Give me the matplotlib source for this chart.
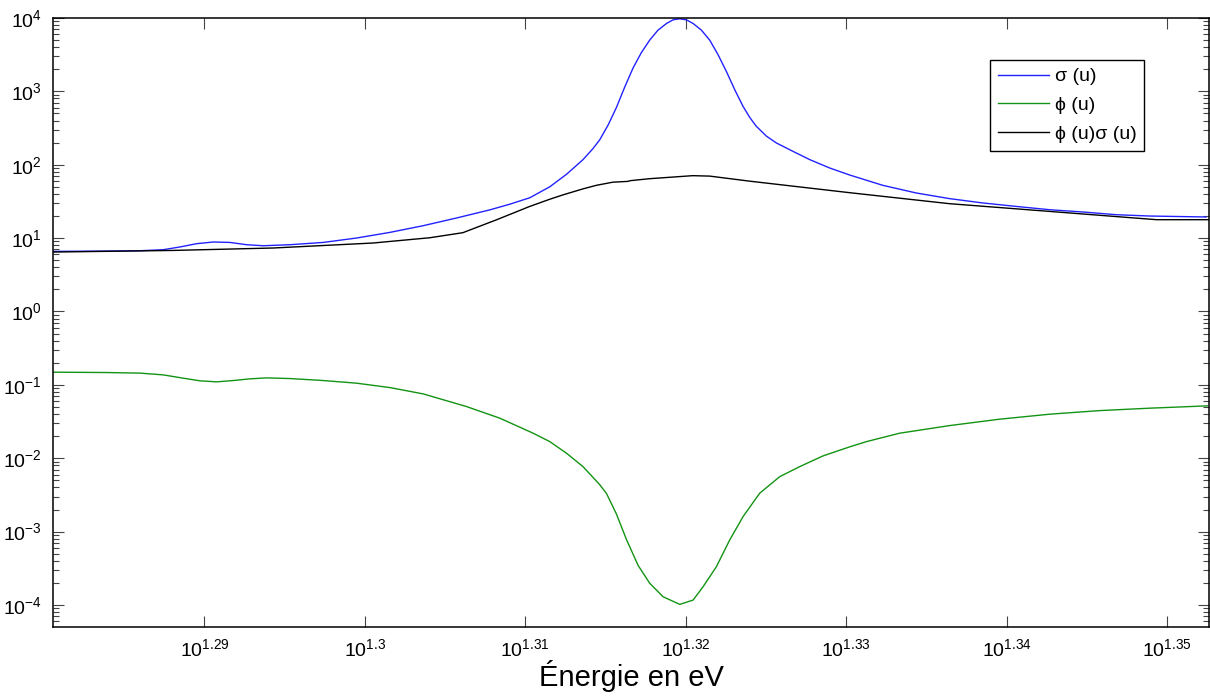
#!/usr/bin/env python3
"""Cross section, flux and reaction rate around the 20.9 eV resonance."""

import matplotlib

matplotlib.use("Agg")
import matplotlib.pyplot as plt
from matplotlib.ticker import FixedLocator, FixedFormatter, LogLocator, NullLocator

plt.rcParams["font.family"] = ["Liberation Sans", "DejaVu Sans"]
plt.rcParams["mathtext.fontset"] = "custom"
plt.rcParams["mathtext.rm"] = "Liberation Sans"
plt.rcParams["mathtext.it"] = "Liberation Sans:italic"
plt.rcParams["mathtext.bf"] = "Liberation Sans:bold"

# Values, both axes as decimal exponents (log10)
sigma_logE = [1.28058, 1.28391, 1.28598, 1.28743, 1.28847, 1.28951, 1.29055,
              1.29159, 1.29263, 1.29366, 1.29533, 1.29740, 1.29948, 1.30156,
              1.30363, 1.30571, 1.30779, 1.30900, 1.31028, 1.31153, 1.31257,
              1.31360, 1.31422, 1.31464, 1.31516, 1.31568, 1.31620, 1.31672,
              1.31724, 1.31776, 1.31827, 1.31880, 1.31921, 1.31963, 1.32004,
              1.32046, 1.32098, 1.32150, 1.32201, 1.32253, 1.32305, 1.32357,
              1.32399, 1.32440, 1.32503, 1.32565, 1.32668, 1.32773, 1.32897,
              1.33022, 1.33229, 1.33437, 1.33645, 1.33852, 1.34060, 1.34268,
              1.34475, 1.34684, 1.34891, 1.35244]
sigma_log = [0.819, 0.824, 0.828, 0.842, 0.879, 0.924, 0.947,
             0.941, 0.910, 0.896, 0.910, 0.941, 1.001, 1.078,
             1.169, 1.274, 1.385, 1.460, 1.550, 1.700, 1.870,
             2.070, 2.220, 2.340, 2.540, 2.780, 3.060, 3.320,
             3.530, 3.700, 3.834, 3.925, 3.975, 3.989, 3.975,
             3.925, 3.834, 3.697, 3.502, 3.274, 3.025, 2.797,
             2.645, 2.524, 2.390, 2.297, 2.183, 2.070, 1.956,
             1.860, 1.719, 1.615, 1.538, 1.479, 1.432, 1.387,
             1.356, 1.319, 1.301, 1.288]

phi_logE = [1.28058, 1.28391, 1.28598, 1.28743, 1.28868, 1.28972, 1.29076,
            1.29180, 1.29284, 1.29387, 1.29533, 1.29740, 1.29948, 1.30156,
            1.30363, 1.30634, 1.30841, 1.31049, 1.31153, 1.31257, 1.31360,
            1.31464, 1.31506, 1.31568, 1.31631, 1.31703, 1.31776, 1.31859,
            1.31963, 1.32046, 1.32108, 1.32191, 1.32274, 1.32357, 1.32461,
            1.32586, 1.32710, 1.32855, 1.33022, 1.33126, 1.33333, 1.33645,
            1.33956, 1.34268, 1.34579, 1.34891, 1.35254]
phi_log = [-0.827, -0.832, -0.840, -0.864, -0.909, -0.945, -0.959,
           -0.941, -0.918, -0.905, -0.914, -0.941, -0.977, -1.037,
           -1.123, -1.296, -1.454, -1.659, -1.774, -1.932, -2.115,
           -2.360, -2.480, -2.760, -3.110, -3.460, -3.705, -3.888,
           -3.992, -3.933, -3.752, -3.479, -3.115, -2.797, -2.477,
           -2.251, -2.115, -1.969, -1.845, -1.774, -1.659, -1.555,
           -1.468, -1.400, -1.351, -1.318, -1.286]

rate_logE = [1.28058, 1.28804, 1.29427, 1.30050, 1.30405, 1.30611, 1.30821,
             1.31028, 1.31153, 1.31236, 1.31358, 1.31444, 1.31545, 1.31639,
             1.31655, 1.31776, 1.32044, 1.32150, 1.32399, 1.33022, 1.33645,
             1.34268, 1.34935, 1.35258]
rate_log = [0.810, 0.832, 0.865, 0.933, 1.005, 1.074, 1.250,
            1.432, 1.530, 1.590, 1.670, 1.720, 1.762, 1.773,
            1.783, 1.810, 1.851, 1.845, 1.776, 1.619, 1.469,
            1.364, 1.251, 1.251]

xtick_exps = [1.29, 1.30, 1.31, 1.32, 1.33, 1.34, 1.35]
xtick_labels = [r"$10^{1.29}$", r"$10^{1.3}$", r"$10^{1.31}$", r"$10^{1.32}$",
                r"$10^{1.33}$", r"$10^{1.34}$", r"$10^{1.35}$"]
ytick_exps = [-4, -3, -2, -1, 0, 1, 2, 3, 4]


def _pow10(values):
    return [10 ** v for v in values]


fig = plt.figure(figsize=(12.1, 7.0), dpi=100)
ax = fig.add_axes([0.0438, 0.1043, 0.9554, 0.8700])

ax.loglog(_pow10(sigma_logE), _pow10(sigma_log), color="#2222ff", lw=1.0, label="σ (u)")
ax.loglog(_pow10(phi_logE), _pow10(phi_log), color="#139313", lw=1.0, label="ϕ (u)")
ax.loglog(_pow10(rate_logE), _pow10(rate_log), color="black", lw=1.0, label="ϕ (u)σ (u)")

ax.set_xlim(10 ** 1.28056, 10 ** 1.35262)
ax.set_ylim(10 ** -4.30, 1e4)

ax.xaxis.set_major_locator(FixedLocator(_pow10(xtick_exps)))
ax.xaxis.set_major_formatter(FixedFormatter(xtick_labels))
ax.xaxis.set_minor_locator(NullLocator())
ax.yaxis.set_major_locator(FixedLocator(_pow10(ytick_exps)))
ax.yaxis.set_minor_locator(LogLocator(base=10, subs=range(2, 10), numticks=20))

ax.tick_params(which="both", direction="in", top=True, right=True,
               labelsize=14, width=0.8, color="#444444")
ax.tick_params(which="major", length=8)
ax.tick_params(which="minor", length=4)
ax.tick_params(axis="x", pad=8)
ax.tick_params(axis="y", pad=8)
for s in ax.spines.values():
    s.set_linewidth(1.1)

ax.set_xlabel("Énergie en eV", fontsize=21, labelpad=0)

leg = ax.legend(loc="upper right", bbox_to_anchor=(0.9438, 0.931), fontsize=14,
                fancybox=False, framealpha=1, edgecolor="black",
                handlelength=2.6, handletextpad=0.3, borderpad=0.4,
                labelspacing=0.58, borderaxespad=0)
leg.get_frame().set_linewidth(1.0)

fig.savefig("out.png", dpi=100)
